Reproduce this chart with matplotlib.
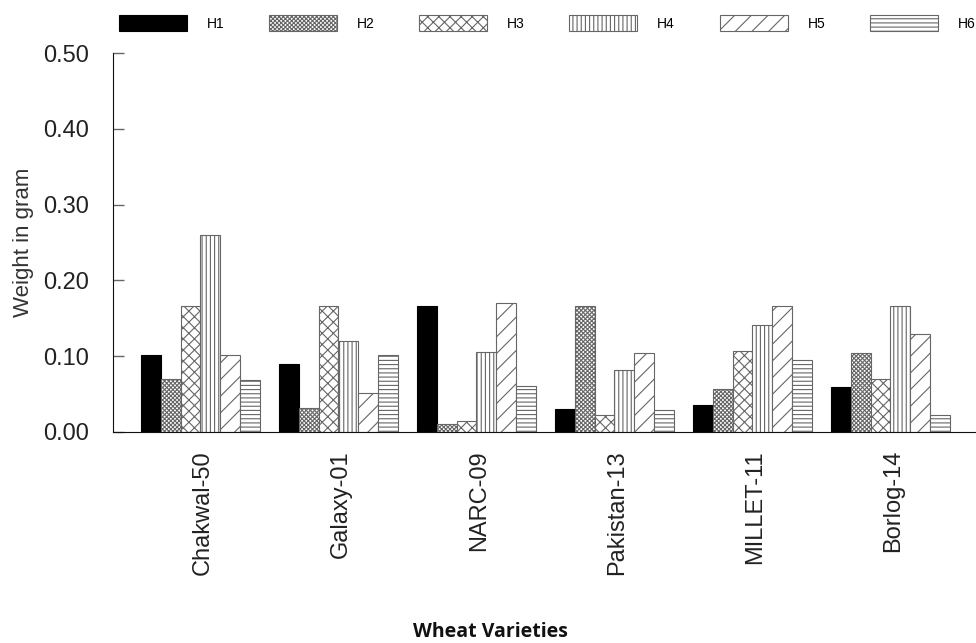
import matplotlib
matplotlib.use('Agg')
import matplotlib.pyplot as plt
import numpy as np

# data
varieties = ['Chakwal-50', 'Galaxy-01', 'NARC-09', 'Pakistan-13', 'MILLET-11', 'Borlog-14']
series = ['H1', 'H2', 'H3', 'H4', 'H5', 'H6']
h1 = [0.102, 0.090, 0.166, 0.031, 0.036, 0.060]
h2 = [0.070, 0.032, 0.010, 0.166, 0.057, 0.104]
h3 = [0.166, 0.166, 0.014, 0.023, 0.107, 0.070]
h4 = [0.260, 0.120, 0.105, 0.082, 0.141, 0.166]
h5 = [0.102, 0.051, 0.170, 0.104, 0.166, 0.129]
h6 = [0.068, 0.102, 0.061, 0.029, 0.095, 0.023]
values = [h1, h2, h3, h4, h5, h6]

# look of each series
faces = ['black', 'white', 'white', 'white', 'white', 'white']
hatches = [None, 'xxxxxxxx', 'xxx', '||||', '//', '----']

plt.rcParams['font.family'] = ['Liberation Sans', 'DejaVu Sans']
plt.rcParams['hatch.linewidth'] = 0.8
plt.rcParams['hatch.color'] = '#333333'

fig = plt.figure(figsize=(9.76, 6.43), dpi=100)
ax = fig.add_axes([113/976, 1 - 432/643, 1 - 113/976, (432 - 53)/643])

x = np.arange(len(varieties))
w = 0.144
handles = []
for i, (name, vals) in enumerate(zip(series, values)):
    b = ax.bar(x + (i - 2.5) * w, vals, width=w, color=faces[i],
               edgecolor='black' if i == 0 else '#666666', linewidth=0.8,
               hatch=hatches[i], label=name)
    handles.append(b)

ax.set_xlim(-0.634, 5.62)
ax.set_ylim(0, 0.5)
ax.set_yticks([0, 0.1, 0.2, 0.3, 0.4, 0.5])
ax.set_yticklabels(['0.00', '0.10', '0.20', '0.30', '0.40', '0.50'])
ax.set_xticks(x + 0.02)
ax.set_xticklabels(varieties, rotation=90)
ax.tick_params(axis='y', direction='in', length=8, width=1, color='#666666',
               labelsize=17, pad=17, labelcolor='#222222')
ax.tick_params(axis='x', length=0, labelsize=17, pad=13, labelcolor='#222222')
for s in ['top', 'right']:
    ax.spines[s].set_visible(False)
ax.spines['left'].set_color('#111111')
ax.spines['bottom'].set_color('#111111')

ax.set_ylabel('Weight in gram', fontsize=16, color='#333333', labelpad=7)
fig.text(490/976, 1 - 632/643, 'Wheat Varieties', ha='center', va='center',
         fontsize=14, fontweight='bold', family=['Open Sans', 'DejaVu Sans'],
         color='#111111')

# legend across the top
fig.legend(handles=handles, labels=series, loc='center left',
           bbox_to_anchor=(113/976, 1 - 23/643), ncol=6, frameon=False,
           fontsize=10, handlelength=4.9, handleheight=1.3,
           handletextpad=1.44, columnspacing=3.2, borderaxespad=0)

fig.savefig('out.png', dpi=100)
